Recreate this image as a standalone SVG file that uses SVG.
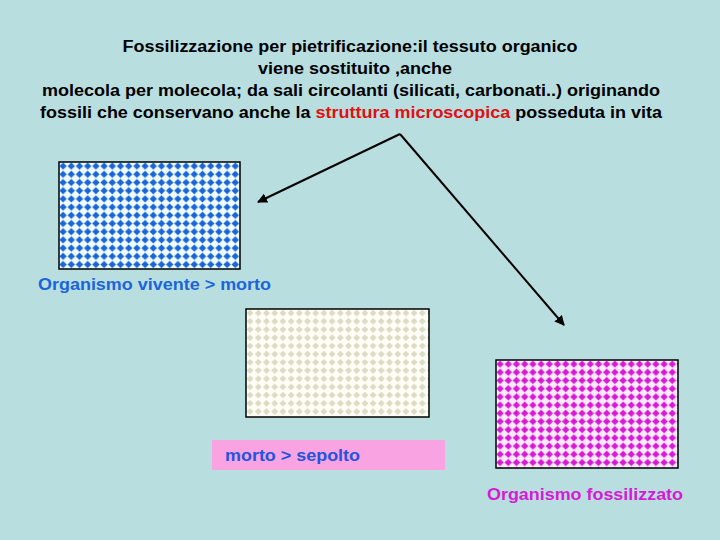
<svg xmlns="http://www.w3.org/2000/svg" width="720" height="540" viewBox="0 0 720 540">
<style>
.t{font-family:"Liberation Sans",Arial,sans-serif;font-weight:bold;font-size:16px}
.title{fill:#000;text-anchor:middle}
.conn{stroke:#000;stroke-width:2;fill:none;marker-end:url(#ah)}
.frame{stroke:#000;stroke-width:1.5}
</style>
<defs>
<marker id="ah" viewBox="0 0 10 10" refX="9" refY="5" markerWidth="5" markerHeight="5" orient="auto" markerUnits="strokeWidth">
<path d="M0,0 L10,5 L0,10 z" fill="#000"/>
</marker>
<pattern id="pBlue" x="59" y="162" width="8.2" height="8.2" patternUnits="userSpaceOnUse">
<rect width="8.2" height="8.2" fill="#f0fcff"/>
<polygon points="4.1,0.4 7.8,4.1 4.1,7.8 0.4,4.1" fill="#1a66d9"/>
</pattern>
<pattern id="pBeige" x="246" y="309" width="8.2" height="8.2" patternUnits="userSpaceOnUse">
<rect width="8.2" height="8.2" fill="#fffff8"/>
<polygon points="4.1,0.6 7.6,4.1 4.1,7.6 0.6,4.1" fill="#dcdcc4"/>
</pattern>
<pattern id="pMag" x="496" y="360" width="8.2" height="8.2" patternUnits="userSpaceOnUse">
<rect width="8.2" height="8.2" fill="#ffeaff"/>
<polygon points="4.1,0.4 7.8,4.1 4.1,7.8 0.4,4.1" fill="#d61ad6"/>
</pattern>
</defs>
<rect width="720" height="540" fill="#b9dee0"/>
<g id="title">
<text class="t title" x="350" y="52" textLength="455" lengthAdjust="spacingAndGlyphs">Fossilizzazione per pietrificazione:il tessuto organico</text>
<text class="t title" x="355" y="74" textLength="194" lengthAdjust="spacingAndGlyphs">viene sostituito ,anche</text>
<text class="t title" x="351" y="96" textLength="618" lengthAdjust="spacingAndGlyphs">molecola per molecola; da sali circolanti (silicati, carbonati..) originando</text>
<text class="t title" x="351" y="118" textLength="622" lengthAdjust="spacingAndGlyphs">fossili che conservano anche la <tspan fill="#e01010">struttura microscopica</tspan> posseduta in vita</text>
</g>
<g id="connectors">
<line class="conn" x1="400" y1="134" x2="258" y2="202"/>
<line class="conn" x1="400" y1="134" x2="564" y2="325"/>
</g>
<g id="vivente">
<rect class="frame" x="59" y="162" width="181" height="107" fill="url(#pBlue)"/>
<text class="t" x="38" y="290" fill="#1a66d9" textLength="233" lengthAdjust="spacingAndGlyphs">Organismo vivente &gt; morto</text>
</g>
<g id="morto">
<rect class="frame" x="246" y="309" width="183" height="108" fill="url(#pBeige)"/>
</g>
<g id="sepolto">
<rect x="212" y="440" width="233" height="30" fill="#f9a3e3"/>
<text class="t" x="225" y="461" fill="#2255dd" textLength="135" lengthAdjust="spacingAndGlyphs">morto &gt; sepolto</text>
</g>
<g id="fossilizzato">
<rect class="frame" x="496" y="360" width="182" height="108" fill="url(#pMag)"/>
<text class="t" x="487" y="500" fill="#d61ad6" textLength="196" lengthAdjust="spacingAndGlyphs">Organismo fossilizzato</text>
</g>
</svg>
